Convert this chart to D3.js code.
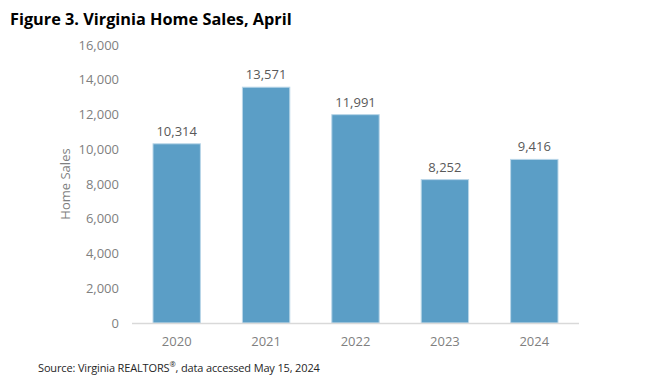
<!DOCTYPE html>
<html><head><meta charset="utf-8">
<script src="https://cdn.jsdelivr.net/npm/d3@7"></script>
<style>body{margin:0;background:#fff}svg{display:block}text{font-family:"Open Sans",sans-serif}</style>
</head><body>
<svg id="c" width="658" height="390"></svg>
<script>
const years = ["2020","2021","2022","2023","2024"];
const sales = [10314, 13571, 11991, 8252, 9416];
const yTicks = [0,2000,4000,6000,8000,10000,12000,14000,16000];

const svg = d3.select("#c");
const x = d3.scaleBand().domain(years).range([132, 579]).paddingInner(0.47).paddingOuter(0.235);
const y = d3.scaleLinear().domain([0,16000]).range([323, 45]);
const fmt = d3.format(",");

svg.append("text").attr("x",10).attr("y",25).attr("font-size",16.3).attr("font-weight","bold").attr("fill","#000")
  .text("Figure 3. Virginia Home Sales, April");

// y axis labels
svg.append("g").selectAll("text").data(yTicks).join("text")
  .attr("x",119).attr("y",d=>y(d)).attr("dy","0.35em").attr("text-anchor","end")
  .attr("font-size",13).attr("fill","#7f7f7f").text(d=>fmt(d));

svg.append("text").attr("transform","translate(70,184) rotate(-90)").attr("text-anchor","middle")
  .attr("font-size",13).attr("fill","#7f7f7f").text("Home Sales");

// bars
svg.append("g").selectAll("rect").data(years).join("rect")
  .attr("x",d=>x(d)).attr("width",x.bandwidth())
  .attr("y",(d,i)=>y(sales[i])).attr("height",(d,i)=>y(0)-y(sales[i]))
  .attr("fill","#5b9ec6").attr("stroke","#b9d6e8").attr("stroke-width",1);

// axis line
svg.append("line").attr("x1",132).attr("x2",579).attr("y1",y(0)+0.5).attr("y2",y(0)+0.5)
  .attr("stroke","#d9d9d9").attr("stroke-width",1.5);

// value labels
svg.append("g").selectAll("text").data(years).join("text")
  .attr("x",d=>x(d)+x.bandwidth()/2).attr("y",(d,i)=>y(sales[i])-8)
  .attr("text-anchor","middle").attr("font-size",13).attr("fill","#595959")
  .text((d,i)=>fmt(sales[i]));

// x labels
svg.append("g").selectAll("text").data(years).join("text")
  .attr("x",d=>x(d)+x.bandwidth()/2).attr("y",346).attr("text-anchor","middle")
  .attr("font-size",13).attr("fill","#7f7f7f").text(d=>d);

// source
const src = svg.append("text").attr("x",38).attr("y",372).attr("font-size",11).attr("letter-spacing",-0.15).attr("fill","#262626");
src.append("tspan").text("Source: Virginia REALTORS");
src.append("tspan").attr("font-size",7.5).attr("dy",-5).text("®");
src.append("tspan").attr("dy",5).text(", data accessed May 15, 2024");
</script>
</body></html>
